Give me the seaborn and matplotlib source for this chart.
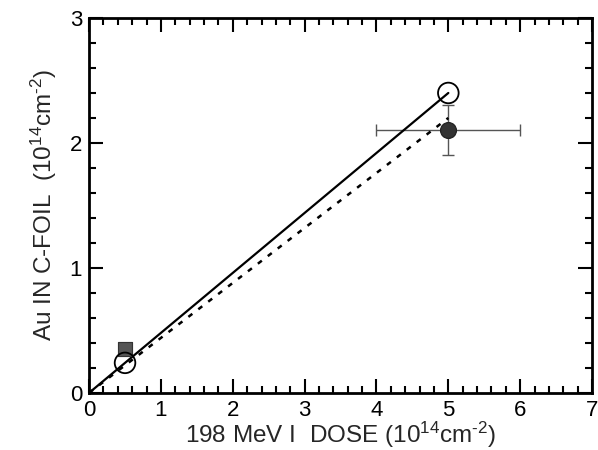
import matplotlib
matplotlib.use("Agg")
import matplotlib.pyplot as plt
import seaborn as sns
from matplotlib.ticker import MultipleLocator

sns.set_style("ticks")
plt.rcParams['font.family'] = ['Liberation Sans', 'DejaVu Sans']
plt.rcParams['mathtext.default'] = 'regular'

# data
dose = [0.5, 5.0]
open_vals = [0.24, 2.4]
filled_vals = [0.35, 2.1]
err_x = 1.0
err_y = 0.2
fit_solid_x = [0.0, 5.0]
fit_solid_y = [0.0, 2.4]
fit_dot_x = [0.0, 5.0]
fit_dot_y = [0.0, 2.2]

fig = plt.figure(figsize=(5.98, 4.5), dpi=100)
ax = fig.add_axes([0.149, 0.127, 0.841, 0.833])

sns.lineplot(x=fit_solid_x, y=fit_solid_y, ax=ax, color='black', lw=1.6, zorder=2)
sns.lineplot(x=fit_dot_x, y=fit_dot_y, ax=ax, color='black', lw=1.8, linestyle=(0, (2, 3)), zorder=2)

ax.errorbar(dose[1], filled_vals[1], xerr=err_x, yerr=err_y, fmt='none',
            ecolor='#555555', elinewidth=1.0, capsize=4, capthick=1.0, zorder=1)
sns.scatterplot(x=[dose[0]], y=[filled_vals[0]], ax=ax, marker='s', s=110,
                color='#555555', edgecolor='#333333', zorder=3)
sns.scatterplot(x=[dose[1]], y=[filled_vals[1]], ax=ax, marker='o', s=130,
                color='#333333', edgecolor='#222222', zorder=3)
sns.scatterplot(x=dose, y=open_vals, ax=ax, marker='o', s=220,
                facecolor='none', edgecolor='black', linewidth=1.3, zorder=4)

ax.set_xlim(0, 7)
ax.set_ylim(0, 3)
ax.xaxis.set_major_locator(MultipleLocator(1))
ax.xaxis.set_minor_locator(MultipleLocator(0.2))
ax.yaxis.set_major_locator(MultipleLocator(1))
ax.yaxis.set_minor_locator(MultipleLocator(0.2))
ax.tick_params(which='both', direction='in', top=True, right=True, width=1.5, colors='black',
               labelsize=16, pad=5)
ax.tick_params(which='major', length=10)
ax.tick_params(which='minor', length=5)
for s in ax.spines.values():
    s.set_linewidth(2)
    s.set_color('black')

ax.set_xlabel('198 MeV I  DOSE (10$^{14}$cm$^{\u20102}$)', fontsize=17.5, labelpad=-1)
ax.set_ylabel('Au IN C-FOIL  (10$^{14}$cm$^{\u20102}$)', fontsize=17.5, labelpad=8)

fig.savefig('out.png', dpi=100)
